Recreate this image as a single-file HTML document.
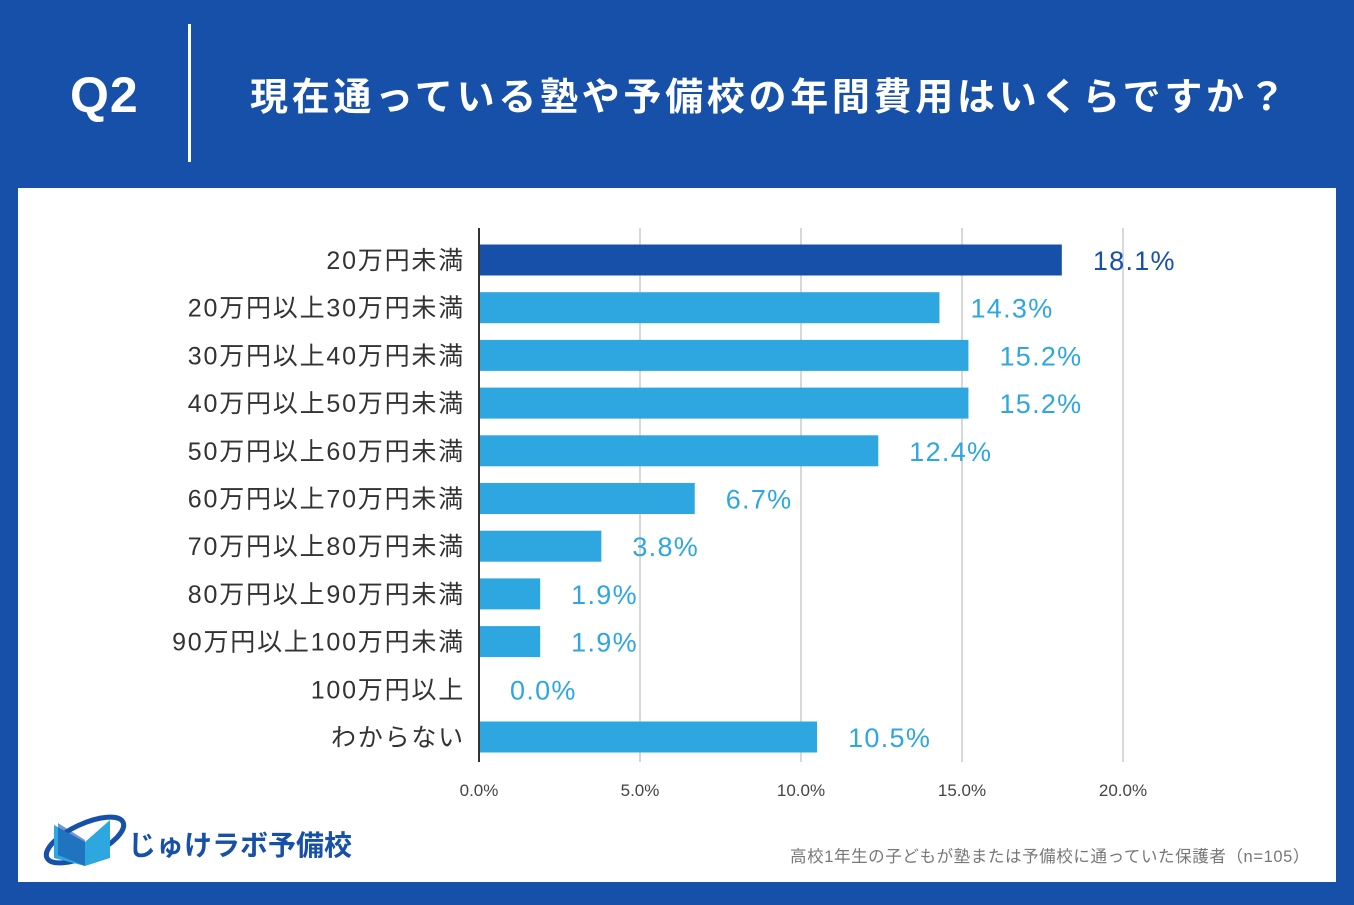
<!DOCTYPE html>
<html><head><meta charset="utf-8"><style>
body{margin:0;width:1354px;height:905px;background:#1650a8;position:relative;overflow:hidden;font-family:"Liberation Sans","Noto Sans CJK JP",sans-serif}
#q{position:absolute;left:70px;top:66px;color:#fff;font-size:50px;font-weight:bold;letter-spacing:1px}
#vl{position:absolute;left:188px;top:24px;width:3px;height:138px;background:#fff}
#title{position:absolute;left:250px;top:66px;color:#fff;font-size:38px;font-weight:bold;letter-spacing:3.7px;white-space:nowrap}
#panel{position:absolute;left:18px;top:188px;width:1318px;height:694px;background:#fff}
svg text{font-family:"Liberation Sans","Noto Sans CJK JP",sans-serif}
</style></head><body>
<div id="q">Q2</div>
<div id="vl"></div>
<div id="title">現在通っている塾や予備校の年間費用はいくらですか？</div>
<div id="panel"></div>
<svg id="chart" width="1354" height="905" style="position:absolute;left:0;top:0">
<g id="logo">
<ellipse cx="85" cy="840" rx="42" ry="16" fill="none" stroke="#1650a8" stroke-width="5" transform="rotate(-25 85 840)"/>
<path d="M54 825 L54 858 L85 866 L110 858 L110 820 L85 842 Z" fill="#2ea7e0"/>
<path d="M58 823 L85 840 L85 866 L58 855Z" fill="#1650a8" opacity="0.6"/>
<text x="128" y="855" font-size="28" font-weight="bold" fill="#1650a8">じゅけラボ予備校</text>
</g>
<text x="1310" y="862" font-size="16.5" letter-spacing="0.6" fill="#777" text-anchor="end">高校1年生の子どもが塾または予備校に通っていた保護者（n=105）</text>
</svg>
<script>
const categories=["20万円未満","20万円以上30万円未満","30万円以上40万円未満","40万円以上50万円未満","50万円以上60万円未満","60万円以上70万円未満","70万円以上80万円未満","80万円以上90万円未満","90万円以上100万円未満","100万円以上","わからない"];
const values=[18.1,14.3,15.2,15.2,12.4,6.7,3.8,1.9,1.9,0.0,10.5];
const ticks=[0,5,10,15,20];
const tickLabels=["0.0%","5.0%","10.0%","15.0%","20.0%"];
const NS="http://www.w3.org/2000/svg",svg=document.getElementById('chart');
const x0=479,pxPer=32.2,y0=260,step=47.7,bh=31;
const X=v=>x0+v*pxPer, Y=i=>y0+i*step;
function mk(t,a,p){const e=document.createElementNS(NS,t);for(const k in a)e.setAttribute(k,a[k]);(p||svg).appendChild(e);return e;}
ticks.forEach((t,i)=>{
 if(i>0){const g=mk('line',{x1:X(t),x2:X(t),y1:228,y2:762,stroke:'#ccc','stroke-width':1.5});
 
 }
 const l=mk('text',{x:X(t),y:796,'font-size':17,fill:'#444','text-anchor':'middle'});l.textContent=tickLabels[i];
 
 
});
values.forEach((v,i)=>{
 const col=i===0?'#1650a8':'#2ea7e0';
 const b=mk('rect',{x:x0,y:Y(i)-bh/2,width:v*pxPer,height:bh,fill:col});
 
 
 const t=mk('text',{x:X(v)+31,y:Y(i)+10,'font-size':27,'letter-spacing':1.3,fill:col});t.textContent=v.toFixed(1)+'%';
 
 
 const c=mk('text',{x:465,y:Y(i)+9,'font-size':25,'letter-spacing':1.8,fill:'#333','text-anchor':'end'});c.textContent=categories[i];
 
 
});
const ax=mk('line',{x1:x0,x2:x0,y1:228,y2:762,stroke:'#333','stroke-width':2});


</script>
</body></html>
